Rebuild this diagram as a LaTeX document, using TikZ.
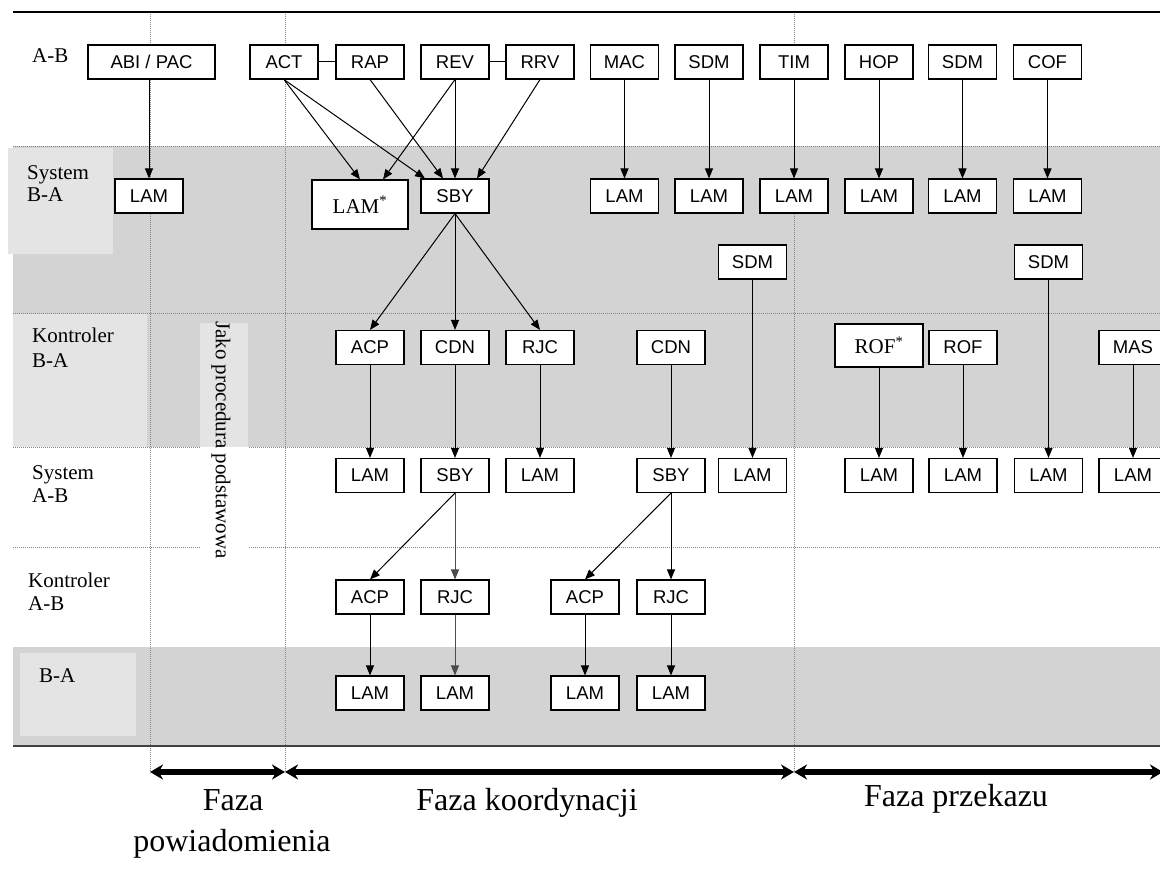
\documentclass[tikz,border=0pt]{standalone}
\usepackage{fontspec}
\setmainfont{Liberation Serif}
\newfontfamily\boxfont{Liberation Sans}
\usetikzlibrary{arrows.meta,calc}
\definecolor{bandgray}{HTML}{D3D3D3}
\definecolor{labelgray}{HTML}{E4E4E4}
\definecolor{gridline}{HTML}{858585}

\tikzset{
  msg/.style={draw=black, line width=1.1pt, fill=white, minimum width=68pt,
    minimum height=34pt, inner sep=0pt, font=\boxfont\fontsize{18.5}{21}\selectfont},
  starmsg/.style={msg, font=\fontsize{21}{24}\selectfont},
  flow/.style={line width=1pt, -{Triangle[length=10pt,width=8pt]}},
  link/.style={line width=1pt},
  grid/.style={gridline, line width=0.9pt, dash pattern=on 1pt off 1pt},
  rowlabel/.style={anchor=base west, inner sep=0pt, font=\fontsize{21}{24}\selectfont},
  phase/.style={line width=6pt, {Stealth[length=13pt,width=15pt]}-{Stealth[length=13pt,width=15pt]}},
  phaselabel/.style={anchor=base, inner sep=0pt, font=\fontsize{32}{36}\selectfont},
}

\begin{document}
\begin{tikzpicture}[x=1pt,y=-1pt]
\useasboundingbox (0,0) rectangle (1160,874);
\clip (0,0) rectangle (1160,874);

% shaded swim lanes
\fill[bandgray] (13,146) rectangle (1160,447);
\fill[bandgray] (13,647) rectangle (1160,746);

% panels behind the lane titles
\fill[labelgray] (8,148) rectangle (113,254);
\fill[labelgray] (13,314) rectangle (147,447);
\fill[labelgray] (20,653) rectangle (136,736);

% lane separators and phase boundaries
\draw[grid] (13,146) -- (1160,146);
\draw[grid] (13,313) -- (1160,313);
\draw[grid] (13,447) -- (1160,447);
\draw[grid] (13,547) -- (1160,547);
\draw[grid] (150,12) -- (150,772);
\draw[grid] (285,12) -- (285,772);
\draw[grid] (794,12) -- (794,772);
\draw[line width=1.2pt] (13,12) -- (1160,12);
\draw[line width=1.2pt, black!75] (13,746) -- (1160,746);

% vertical note panel
\fill[labelgray] (200,323) rectangle (248,447);
\fill[white] (200,447) rectangle (248,562);
\node[rotate=-90, inner sep=0pt, font=\fontsize{21}{24}\selectfont] (note) at (221,440) {Jako procedura podstawowa};

% lane titles
\node[rowlabel] (t1) at (32,63) {A-B};
\node[rowlabel] (t2a) at (27,180) {System};
\node[rowlabel] (t2b) at (27,202) {B-A};
\node[rowlabel] (t3a) at (32,343) {Kontroler};
\node[rowlabel] (t3b) at (32,368) {B-A};
\node[rowlabel] (t4a) at (32,480) {System};
\node[rowlabel] (t4b) at (32,503) {A-B};
\node[rowlabel] (t5a) at (28,587) {Kontroler};
\node[rowlabel] (t5b) at (28,610) {A-B};
\node[rowlabel] (t6) at (39,682) {B-A};

% row 1
\node[msg, minimum width=127pt] (abi) at (151.5,62) {ABI / PAC};
\node[msg] (act) at (284,62) {ACT};
\node[msg] (rap) at (370,62) {RAP};
\node[msg] (rev) at (455,62) {REV};
\node[msg] (rrv) at (540,62) {RRV};
\node[msg] (mac) at (624.5,62) {MAC};
\node[msg] (sdmA) at (709,62) {SDM};
\node[msg] (tim) at (794,62) {TIM};
\node[msg] (hop) at (879,62) {HOP};
\node[msg] (sdmB) at (962.5,62) {SDM};
\node[msg] (cof) at (1047.5,62) {COF};

% row 2
\node[msg] (lamA) at (149,196) {LAM};
\node[starmsg, minimum width=96pt, minimum height=49pt] (lamS) at (360,204.5) {LAM\textsuperscript{*}};
\node[msg] (sbyA) at (455,196) {SBY};
\node[msg] (lam1) at (624.5,196) {LAM};
\node[msg] (lam2) at (709,196) {LAM};
\node[msg] (lam3) at (794,196) {LAM};
\node[msg] (lam4) at (879,196) {LAM};
\node[msg] (lam5) at (962.5,196) {LAM};
\node[msg] (lam6) at (1047.5,196) {LAM};

% row 3
\node[msg] (sdmC) at (752.5,262) {SDM};
\node[msg] (sdmD) at (1048.5,262) {SDM};

% row 4
\node[msg] (acpA) at (370,347.5) {ACP};
\node[msg] (cdnA) at (455,347.5) {CDN};
\node[msg] (rjcA) at (540,347.5) {RJC};
\node[msg] (cdnB) at (671,347.5) {CDN};
\node[starmsg, minimum width=88pt, minimum height=43pt] (rofS) at (879,345.5) {ROF\textsuperscript{*}};
\node[msg] (rof) at (963,347.5) {ROF};
\node[msg] (mas) at (1133,347.5) {MAS};

% row 5
\node[msg] (lamB) at (370,475.5) {LAM};
\node[msg] (sbyB) at (455,475.5) {SBY};
\node[msg] (lamC) at (540,475.5) {LAM};
\node[msg] (sbyC) at (671,475.5) {SBY};
\node[msg] (lamD) at (752.5,475.5) {LAM};
\node[msg] (lamE) at (879,475.5) {LAM};
\node[msg] (lamF) at (963,475.5) {LAM};
\node[msg] (lamG) at (1048.5,475.5) {LAM};
\node[msg] (lamH) at (1133,475.5) {LAM};

% row 6
\node[msg] (acpB) at (370,597) {ACP};
\node[msg] (rjcB) at (455,597) {RJC};
\node[msg] (acpC) at (585,597) {ACP};
\node[msg] (rjcC) at (671,597) {RJC};

% row 7
\node[msg] (lamI) at (370,693) {LAM};
\node[msg] (lamJ) at (455,693) {LAM};
\node[msg] (lamK) at (585,693) {LAM};
\node[msg] (lamL) at (671,693) {LAM};

% grouping links
\draw[link] (act) -- (rap);
\draw[link] (rev) -- (rrv);

% row 1 -> row 2
\draw[flow] (abi.south -| lamA) -- (lamA);
\draw[flow] (act.south) -- (lamS.north);
\draw[flow] (act.south) -- ($(sbyA.north)+(-30,0)$);
\draw[flow] (rap.south) -- ($(sbyA.north)+(-12,0)$);
\draw[flow] (rev.south) -- ($(lamS.north)+(23,0)$);
\draw[flow] (rev) -- (sbyA);
\draw[flow] (rrv.south) -- ($(sbyA.north)+(22,0)$);
\draw[flow] (mac) -- (lam1);
\draw[flow] (sdmA) -- (lam2);
\draw[flow] (tim) -- (lam3);
\draw[flow] (hop) -- (lam4);
\draw[flow] (sdmB) -- (lam5);
\draw[flow] (cof) -- (lam6);

% row 2 -> row 4
\draw[flow] (sbyA.south) -- (acpA.north);
\draw[flow] (sbyA) -- (cdnA);
\draw[flow] (sbyA.south) -- (rjcA.north);

% rows 3/4 -> row 5
\draw[flow] (acpA) -- (lamB);
\draw[flow] (cdnA) -- (sbyB);
\draw[flow] (rjcA) -- (lamC);
\draw[flow] (cdnB) -- (sbyC);
\draw[flow] (sdmC) -- (lamD);
\draw[flow] (rofS) -- (lamE);
\draw[flow] (rof) -- (lamF);
\draw[flow] (sdmD) -- (lamG);
\draw[flow] (mas) -- (lamH);

% row 5 -> row 6
\draw[flow] (sbyB.south) -- (acpB.north);
\draw[flow, black!70] (sbyB) -- (rjcB);
\draw[flow] (sbyC.south) -- (acpC.north);
\draw[flow] (sbyC) -- (rjcC);

% row 6 -> row 7
\draw[flow] (acpB) -- (lamI);
\draw[flow, black!70] (rjcB) -- (lamJ);
\draw[flow] (acpC) -- (lamK);
\draw[flow] (rjcC) -- (lamL);

% phase spans
\coordinate (ph0) at (150,772);
\coordinate (ph1) at (285,772);
\coordinate (ph2) at (794,772);
\coordinate (ph3) at (1163,772);
\draw[phase] (ph0) -- (ph1);
\draw[phase] (ph1) -- (ph2);
\draw[phase] (ph2) -- (ph3);

\node[phaselabel] (f1a) at (233,810) {Faza};
\node[phaselabel] (f1b) at (232,851) {powiadomienia};
\node[phaselabel] (f2) at (527,810) {Faza koordynacji};
\node[phaselabel] (f3) at (956,806) {Faza przekazu};
\end{tikzpicture}
\end{document}
